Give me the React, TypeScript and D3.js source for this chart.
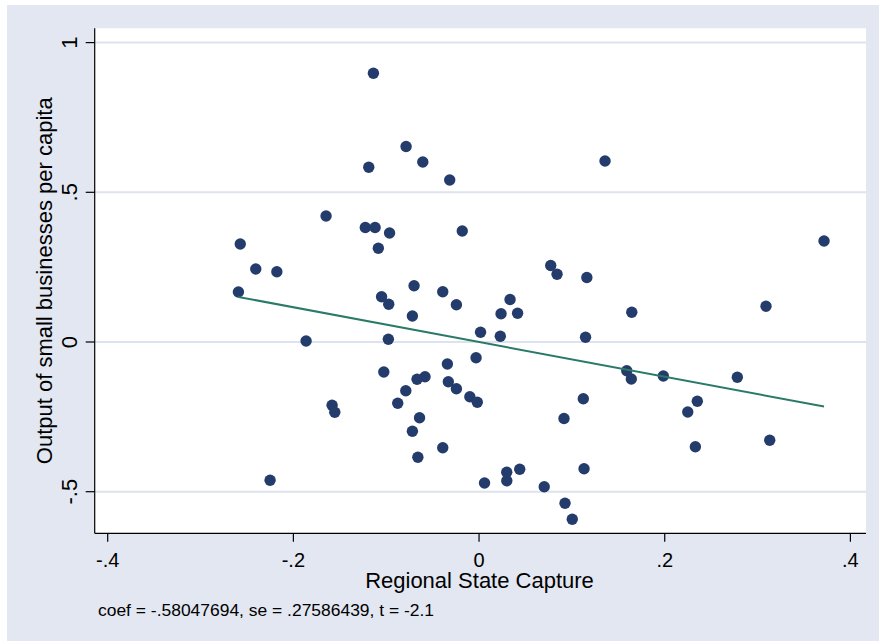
import React from 'react';
import * as d3 from 'd3';

// Regional State Capture (residual) vs output of small businesses per capita (residual)
const captureX = [
  -0.1138, -0.0786, -0.0606, -0.1188, -0.0316, 0.1357, -0.1648, -0.1225, -0.1120, -0.0964,
  -0.1085, -0.0181, -0.2572, -0.2405, -0.2178, -0.2592, -0.0700, -0.1050, -0.0973, -0.0718,
  -0.0391, -0.0244, 0.3716, 0.0772, 0.0840, 0.1161, 0.0334, 0.0237, 0.0415, 0.1645,
  0.3091, 0.0016, 0.0229, 0.1147, -0.1863, -0.0977, -0.0032, -0.0341, -0.1026, -0.0668,
  -0.0582, -0.0331, -0.0244, -0.0789, -0.0876, -0.0099, -0.0019, -0.1583, -0.1554, -0.0641,
  -0.0718, -0.0391, -0.0659, -0.2251, 0.1591, 0.1640, 0.1985, 0.2782, 0.1123, 0.2351,
  0.2248, 0.0915, 0.2330, 0.3131, 0.0059, 0.0298, 0.0299, 0.0438, 0.1131, 0.0702,
  0.0926, 0.1004,
];
const outputY = [
  0.8975, 0.6530, 0.6010, 0.5835, 0.5410, 0.6045, 0.4208, 0.3824, 0.3824, 0.3640,
  0.3130, 0.3707, 0.3273, 0.2438, 0.2348, 0.1670, 0.1880, 0.1513, 0.1259, 0.0868,
  0.1680, 0.1246, 0.3373, 0.2555, 0.2265, 0.2154, 0.1420, 0.0942, 0.0962, 0.0992,
  0.1192, 0.0327, 0.0190, 0.0157, 0.0033, 0.0090, -0.0524, -0.0735, -0.1002, -0.1246,
  -0.1159, -0.1326, -0.1560, -0.1627, -0.2047, -0.1827, -0.2014, -0.2114, -0.2348, -0.2532,
  -0.2983, -0.3530, -0.3851, -0.4619, -0.0959, -0.1236, -0.1136, -0.1179, -0.1894, -0.1981,
  -0.2338, -0.2555, -0.3497, -0.3283, -0.4709, -0.4352, -0.4633, -0.4248, -0.4232, -0.4833,
  -0.5384, -0.5922,
];

const xTicks = [-0.4, -0.2, 0, 0.2, 0.4];
const xTickLabels = ['-.4', '-.2', '0', '.2', '.4'];
const yTicks = [1, 0.5, 0, -0.5];
const yTickLabels = ['1', '.5', '0', '-.5'];

const fitCoef = -0.58047694;
const fitIntercept = 0;
const caption = 'coef = -.58047694, se = .27586439, t = -2.1';

const W = 879;
const H = 643;
const plot = { left: 94.7, right: 866, top: 28.3, bottom: 533.3 };

const BG = '#E2E7F1';
const GRID = '#DDE3EE';
const NAVY = '#243C6C';
const FIT = '#2A7A68';
const FONT = '"Liberation Sans", Arial, sans-serif';

export default function App() {
  const x = d3.scaleLinear().domain([-0.4, 0.4]).range([107.7, 850.4]);
  const y = d3.scaleLinear().domain([-0.5, 1]).range([491.7, 42.6]);

  const points = captureX.map((v, i) => ({ x: v, y: outputY[i] }));
  const [xmin, xmax] = d3.extent(captureX) as [number, number];
  const fitLine = d3.line<number>()
    .x(d => x(d))
    .y(d => y(fitIntercept + fitCoef * d));

  return (
    <div style={{ position: 'absolute', left: 0, top: 0 }}>
      <svg width={W} height={H} style={{ display: 'block', fontFamily: FONT }}>
        <rect x={0} y={0} width={W} height={H} fill="#ffffff" />
        <rect x={7} y={5} width={W - 7} height={636} fill={BG} />
        <rect
          x={plot.left}
          y={plot.top}
          width={plot.right - plot.left}
          height={plot.bottom - plot.top}
          fill="#ffffff"
        />

        {/* grid */}
        {yTicks.map(t => (
          <line
            key={`g${t}`}
            x1={plot.left}
            x2={plot.right}
            y1={y(t)}
            y2={y(t)}
            stroke={GRID}
            strokeWidth={2}
          />
        ))}

        {/* scatter */}
        {points.map((p, i) => (
          <circle key={i} cx={x(p.x)} cy={y(p.y)} r={5.7} fill={NAVY} />
        ))}

        {/* fitted line */}
        <path d={fitLine([xmin, xmax]) || ''} fill="none" stroke={FIT} strokeWidth={2} />

        {/* axes */}
        <line x1={plot.left} x2={plot.left} y1={plot.top} y2={plot.bottom} stroke="#000" strokeWidth={1.2} />
        <line x1={plot.left} x2={plot.right} y1={plot.bottom} y2={plot.bottom} stroke="#000" strokeWidth={1.2} />

        {yTicks.map((t, i) => (
          <g key={`y${t}`}>
            <line x1={plot.left - 9} x2={plot.left} y1={y(t)} y2={y(t)} stroke="#000" strokeWidth={1.2} />
            <text
              transform={`translate(76.5,${y(t)}) rotate(-90)`}
              textAnchor="middle"
              fontSize={22}
              fill="#000"
            >
              {yTickLabels[i]}
            </text>
          </g>
        ))}

        {xTicks.map((t, i) => (
          <g key={`x${t}`}>
            <line x1={x(t)} x2={x(t)} y1={plot.bottom} y2={plot.bottom + 8.5} stroke="#000" strokeWidth={1.2} />
            <text x={x(t)} y={567.3} textAnchor="middle" fontSize={20} fill="#000">
              {xTickLabels[i]}
            </text>
          </g>
        ))}

        <text
          transform={`translate(51.7,${(plot.top + plot.bottom) / 2}) rotate(-90)`}
          textAnchor="middle"
          fontSize={22}
          fill="#000"
        >
          Output of small businesses per capita
        </text>

        <text x={479.5} y={588.3} textAnchor="middle" fontSize={22} fill="#000">
          Regional State Capture
        </text>

        <text x={98} y={615.7} fontSize={16} textLength={336} lengthAdjust="spacingAndGlyphs" fill="#000">
          {caption}
        </text>
      </svg>
    </div>
  );
}
